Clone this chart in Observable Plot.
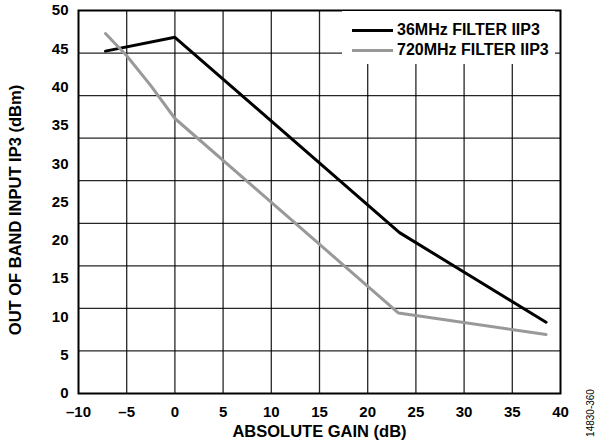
<!DOCTYPE html>
<html>
<head>
<meta charset="utf-8">
<script src="https://cdn.jsdelivr.net/npm/d3@7"></script>
<script src="https://cdn.jsdelivr.net/npm/@observablehq/plot@0.6"></script>
<style>
  html, body { margin: 0; padding: 0; background: #fff; }
  #wrap { position: relative; width: 609px; height: 448px; font-family: "Liberation Sans", Arial, sans-serif; }
  #legend { position: absolute; left: 342px; top: 11px; width: 213px; height: 53px; background: #fff; }
  .row { position: absolute; left: 10px; height: 20px; display: flex; align-items: center; }
  .swatch { width: 41px; height: 0; border-top: 3px solid; margin-right: 4px; }
  .lbl { font-size: 16px; font-weight: bold; color: #000; white-space: nowrap; }
  #code { position: absolute; left: 590px; top: 413px; transform: translate(-50%, -50%) rotate(-90deg); font-size: 10px; color: #000; white-space: nowrap; }
  #ytitle { position: absolute; left: 15px; top: 210px; transform: translate(-50%, -50%) rotate(-90deg); font-size: 16.5px; font-weight: bold; color: #000; white-space: nowrap; line-height: 1; }
</style>
</head>
<body>
<div id="wrap">
  <div id="chart"></div>
  <div id="legend"></div>
  <div id="ytitle"></div>
  <div id="code"></div>
</div>
<script>
// Series data
const gain36 = [-7.2, 0, 23.3, 38.5];
const iip36  = [44.7, 46.5, 21.0, 9.3];
const gain720 = [-7.2, -5, -2.5, 0, 23.2, 38.5];
const iip720  = [47.0, 44.1, 40.2, 35.9, 10.5, 7.7];

const seriesNames = ["36MHz FILTER IIP3", "720MHz FILTER IIP3"];
const seriesColors = ["#000000", "#999999"];

// Axis tick labels
const xTicks = [-10, -5, 0, 5, 10, 15, 20, 25, 30, 35, 40];
const yTicks = [0, 5, 10, 15, 20, 25, 30, 35, 40, 45, 50];
// Gridlines as placed in the reference (not aligned with the labels)
const xGrid = [-5, 0, 5, 10, 15, 20, 25, 30, 35];
const yGrid = [5.56, 11.11, 16.67, 22.22, 27.78, 33.33, 38.89, 44.44];

const xTitle = "ABSOLUTE GAIN (dB)";
const yTitle = "OUT OF BAND INPUT IP3 (dBm)";
const figCode = "14830-360";

const rows = [
  ...gain36.map((g, i) => ({series: seriesNames[0], gain: g, iip: iip36[i]})),
  ...gain720.map((g, i) => ({series: seriesNames[1], gain: g, iip: iip720[i]}))
];

const fmt = d => d < 0 ? "\u2013" + Math.abs(d) : String(d);

const chart = Plot.plot({
  width: 609,
  height: 448,
  marginLeft: 78,
  marginRight: 49,
  marginTop: 10,
  marginBottom: 55,
  x: {domain: [-10, 40]},
  y: {domain: [0, 50]},
  color: {domain: seriesNames, range: seriesColors},
  style: {fontFamily: '"Liberation Sans", Arial, sans-serif', fontSize: "15px", fontWeight: "bold", color: "#000", background: "#fff"},
  marks: [
    Plot.gridX(xGrid, {stroke: "#000", strokeOpacity: 0.85, strokeWidth: 1.3}),
    Plot.gridY(yGrid, {stroke: "#000", strokeOpacity: 0.85, strokeWidth: 1.3}),
    Plot.line(rows, {x: "gain", y: "iip", z: "series", stroke: "series", strokeWidth: 3, strokeLinejoin: "miter"}),
    Plot.frame({stroke: "#000", strokeWidth: 2}),
    Plot.axisX(xTicks, {tickSize: 0, tickPadding: 13, tickFormat: fmt, label: null, fontSize: 15}),
    Plot.axisY(yTicks, {tickSize: 0, tickPadding: 10, tickFormat: fmt, label: null, fontSize: 15}),
    Plot.text([xTitle], {frameAnchor: "bottom", dy: 43, fontSize: 16.5, fontWeight: "bold", fill: "#000"})
  ]
});
document.getElementById("chart").appendChild(chart);

// Y-axis title
document.getElementById("ytitle").textContent = yTitle;

// Legend overlay
const legend = document.getElementById("legend");
seriesNames.forEach((name, i) => {
  const row = document.createElement("div");
  row.className = "row";
  row.style.top = (9 + i * 20) + "px";
  const sw = document.createElement("div");
  sw.className = "swatch";
  sw.style.borderTopColor = seriesColors[i];
  const lb = document.createElement("span");
  lb.className = "lbl";
  lb.textContent = name;
  row.appendChild(sw);
  row.appendChild(lb);
  legend.appendChild(row);
});
document.getElementById("code").textContent = figCode;
</script>
</body>
</html>
